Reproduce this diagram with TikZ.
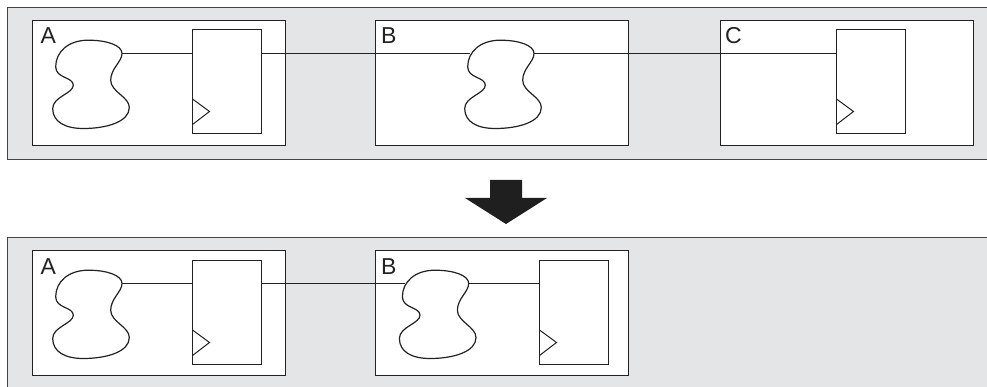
\documentclass[tikz,border=0pt]{standalone}
\usepackage{fontspec}
\setmainfont{Liberation Sans}
\definecolor{panelgray}{HTML}{E4E5E6}
\definecolor{inkgray}{HTML}{222222}
\tikzset{
  panel/.style={fill=panelgray,anchor=north west,inner sep=0pt,outer sep=0pt,minimum width=979.5pt},
  block/.style={draw=inkgray,line width=1.4pt,fill=white,anchor=north west,inner sep=0pt,outer sep=0pt,minimum width=253pt,minimum height=125pt},
  ff/.style={draw=inkgray,line width=1.4pt,fill=white,anchor=north west,inner sep=0pt,outer sep=0pt,minimum width=69pt,minimum height=104pt},
  tag/.style={anchor=base west,inner sep=0pt,text=inkgray,font=\fontsize{23}{23}\selectfont},
  wire/.style={draw=inkgray,line width=1.3pt},
  blob/.pic={
    \draw[inkgray,line width=1.2pt] (0,0)
      .. controls (0,8.3) and (-11.3,15) .. (-11.3,26.7)
      .. controls (-11.3,38.3) and (7.3,43.3) .. (7.3,54)
      .. controls (7.3,68.3) and (-15.3,75) .. (-38.7,75)
      .. controls (-57,75) and (-69.3,68.3) .. (-69.3,55)
      .. controls (-69.3,43.3) and (-48.7,40) .. (-48.7,31.7)
      .. controls (-48.7,23.3) and (-66.3,25) .. (-66.3,13.3)
      .. controls (-66.3,-1.7) and (-53.7,-13.3) .. (-33.7,-13.3)
      .. controls (-15.3,-13.3) and (0,-8.3) .. (0,0) -- cycle;
    \coordinate (-out) at (0,0);
    \coordinate (-in) at (-63.7,0);
  }
}
\begin{document}
\begin{tikzpicture}[x=1pt,y=-1pt]
  \useasboundingbox (0,0) rectangle (987,387);
  % top row
  \node[panel,minimum height=152pt] (top) at (7.5,7.5) {};
  \draw[inkgray!85,line width=1.5pt] (top.north east) -- (top.north west) -- (top.south west) -- (top.south east);
  \node[block] (blockA) at (32.5,20.5) {};
  \node[block] (blockB) at (375.5,20.5) {};
  \node[block] (blockC) at (720.5,20.5) {};
  \node[tag] (tagA) at (40.5,44) {A};
  \node[tag] (tagB) at (381,44) {B};
  \node[tag] (tagC) at (725,44) {C};
  \node[ff] (ffA) at (192.5,29.5) {};
  \node[ff] (ffC) at (836.5,29.5) {};
  \pic (blobA) at (122,53.5) {blob};
  \pic (blobB) at (534,53.5) {blob};
  \draw[wire] (blobA-out) -- (blobA-out -| ffA.west);
  \draw[wire] (blobA-out -| ffA.east) -- (blobB-in);
  \draw[wire] (blobB-out) -- (blobB-out -| ffC.west);
  % arrow
  \fill[black!88] (490,180) -- (522,180) -- (522,198) -- (547,198) -- (506,224) -- (465,198) -- (490,198) -- cycle;
  % bottom row
  \node[panel,minimum height=150pt] (bottom) at (7.5,237.5) {};
  \draw[inkgray!85,line width=1.5pt] (bottom.north east) -- (bottom.north west) -- (bottom.south west);
  \node[block] (blockAnew) at (32.5,250.5) {};
  \node[block] (blockBnew) at (375.5,250.5) {};
  \node[tag] (tagAnew) at (40.5,274.5) {A};
  \node[tag] (tagBnew) at (381,274.5) {B};
  \node[ff] (ffAnew) at (192.5,260.5) {};
  \node[ff] (ffBnew) at (539.5,260.5) {};
  \pic (blobAnew) at (122,283.5) {blob};
  \pic (blobBnew) at (468.7,283.5) {blob};
  \draw[wire] (blobAnew-out) -- (blobAnew-out -| ffAnew.west);
  \draw[wire] (blobAnew-out -| ffAnew.east) -- (blobBnew-in);
  \draw[wire] (blobBnew-out) -- (blobBnew-out -| ffBnew.west);
  % clock marks
  \foreach \f in {ffA,ffC,ffAnew,ffBnew}
    \draw[inkgray,line width=1pt] ([yshift=34.5pt]\f.south west) -- ([xshift=17pt,yshift=22pt]\f.south west) -- ([yshift=9pt]\f.south west);
\end{tikzpicture}
\end{document}
